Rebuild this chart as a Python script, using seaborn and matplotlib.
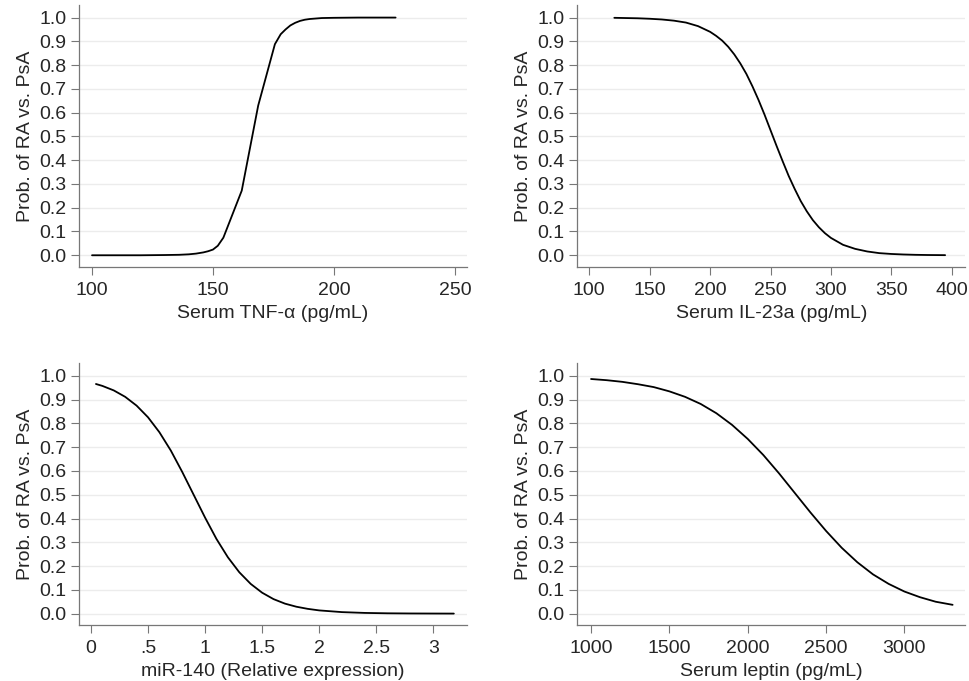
import matplotlib
matplotlib.use("Agg")
import matplotlib.pyplot as plt
import seaborn as sns
import pandas as pd

# values
tnf_x = [100, 110, 120, 130, 136, 140, 143, 146, 148, 150, 152, 154.3, 161.9, 168.7, 175.6,
         178, 180, 182, 184, 186, 188, 190, 195, 200, 210, 225.5]
tnf_p = [0.000, 0.000, 0.000, 0.001, 0.002, 0.004, 0.007, 0.012, 0.017, 0.024, 0.040, 0.074,
         0.272, 0.630, 0.888, 0.930, 0.950, 0.967, 0.978, 0.986, 0.991, 0.994, 0.998, 0.999,
         1.000, 1.000]

il23_x = [120.7, 130, 140, 150, 160, 170, 180, 190, 200, 205, 210, 215, 220, 225, 230, 235,
          240, 245, 250, 255, 260, 265, 270, 275, 280, 285, 290, 295, 300, 310, 320, 330,
          340, 350, 360, 370, 380, 394.5]
il23_p = [0.999, 0.998, 0.997, 0.995, 0.992, 0.987, 0.979, 0.964, 0.940, 0.923, 0.903, 0.877,
          0.845, 0.807, 0.763, 0.711, 0.654, 0.592, 0.526, 0.460, 0.396, 0.334, 0.279, 0.228,
          0.185, 0.148, 0.118, 0.093, 0.073, 0.044, 0.027, 0.016, 0.009, 0.0055, 0.0033,
          0.0019, 0.0011, 0.0005]

mir_x = [0.044, 0.1, 0.2, 0.3, 0.4, 0.5, 0.6, 0.7, 0.8, 0.9, 1.0, 1.1, 1.2, 1.3, 1.4, 1.5,
         1.6, 1.7, 1.8, 1.9, 2.0, 2.2, 2.4, 2.6, 2.8, 3.0, 3.18]
mir_p = [0.966, 0.958, 0.939, 0.912, 0.875, 0.826, 0.763, 0.686, 0.596, 0.500, 0.404, 0.314,
         0.237, 0.174, 0.125, 0.088, 0.061, 0.042, 0.029, 0.020, 0.0135, 0.0063, 0.0029,
         0.0013, 0.0006, 0.0003, 0.0001]

lep_x = [1000, 1100, 1200, 1300, 1400, 1500, 1600, 1700, 1800, 1900, 2000, 2100, 2200, 2300,
         2400, 2500, 2600, 2700, 2800, 2900, 3000, 3100, 3200, 3308]
lep_p = [0.987, 0.982, 0.975, 0.965, 0.953, 0.935, 0.912, 0.882, 0.843, 0.794, 0.735, 0.667,
         0.590, 0.508, 0.426, 0.348, 0.277, 0.216, 0.165, 0.125, 0.093, 0.069, 0.050, 0.037]

y_ticks = [i / 10 for i in range(11)]
y_labels = [f"{v:.1f}" for v in y_ticks]
y_title = "Prob. of RA vs. PsA"

panels = [
    dict(x=tnf_x, p=tnf_p, xlabel="Serum TNF-\u03b1 (pg/mL)",
         xticks=[100, 150, 200, 250], xticklabels=["100", "150", "200", "250"],
         xlim=(94.6, 255.0), pos=[0.0814, 0.6084, 0.400, 0.3843]),
    dict(x=il23_x, p=il23_p, xlabel="Serum IL-23a (pg/mL)",
         xticks=[100, 150, 200, 250, 300, 350, 400],
         xticklabels=["100", "150", "200", "250", "300", "350", "400"],
         xlim=(90.1, 411.0), pos=[0.5952, 0.6084, 0.3997, 0.3843]),
    dict(x=mir_x, p=mir_p, xlabel="miR-140 (Relative expression)",
         xticks=[0, 0.5, 1, 1.5, 2, 2.5, 3],
         xticklabels=["0", ".5", "1", "1.5", "2", "2.5", "3"],
         xlim=(-0.105, 3.295), pos=[0.0814, 0.0822, 0.400, 0.3843]),
    dict(x=lep_x, p=lep_p, xlabel="Serum leptin (pg/mL)",
         xticks=[1000, 1500, 2000, 2500, 3000],
         xticklabels=["1000", "1500", "2000", "2500", "3000"],
         xlim=(912.5, 3387.5), pos=[0.5952, 0.0822, 0.3997, 0.3843]),
]

sns.set_theme(style="white")
plt.rcParams['font.family'] = ['Liberation Sans', 'DejaVu Sans']

fig = plt.figure(figsize=(9.7, 6.81), dpi=100)

for pnl in panels:
    ax = fig.add_axes(pnl["pos"])
    df = pd.DataFrame({"x": pnl["x"], "p": pnl["p"]})
    for v in y_ticks:
        ax.axhline(v, color="#ececec", lw=1.0, zorder=0)
    sns.lineplot(data=df, x="x", y="p", ax=ax, color="black", lw=1.3, zorder=3)
    ax.set_xlim(*pnl["xlim"])
    ax.set_ylim(-0.048, 1.053)
    ax.set_xticks(pnl["xticks"])
    ax.set_xticklabels(pnl["xticklabels"])
    ax.set_yticks(y_ticks)
    ax.set_yticklabels(y_labels)
    ax.set_xlabel(pnl["xlabel"], fontsize=14, labelpad=4)
    ax.set_ylabel(y_title, fontsize=14, labelpad=4)
    ax.tick_params(axis="both", labelsize=14, length=5.5, width=0.8,
                   color="#777777", direction="out")
    ax.tick_params(axis="x", pad=5.5)
    ax.tick_params(axis="y", pad=3.6)
    ax.tick_params(axis="both", bottom=True, left=True)
    for side in ["top", "right"]:
        ax.spines[side].set_visible(False)
    for side in ["left", "bottom"]:
        ax.spines[side].set_color("#777777")
        ax.spines[side].set_linewidth(0.9)

fig.savefig("out.png", dpi=100, facecolor="white")
